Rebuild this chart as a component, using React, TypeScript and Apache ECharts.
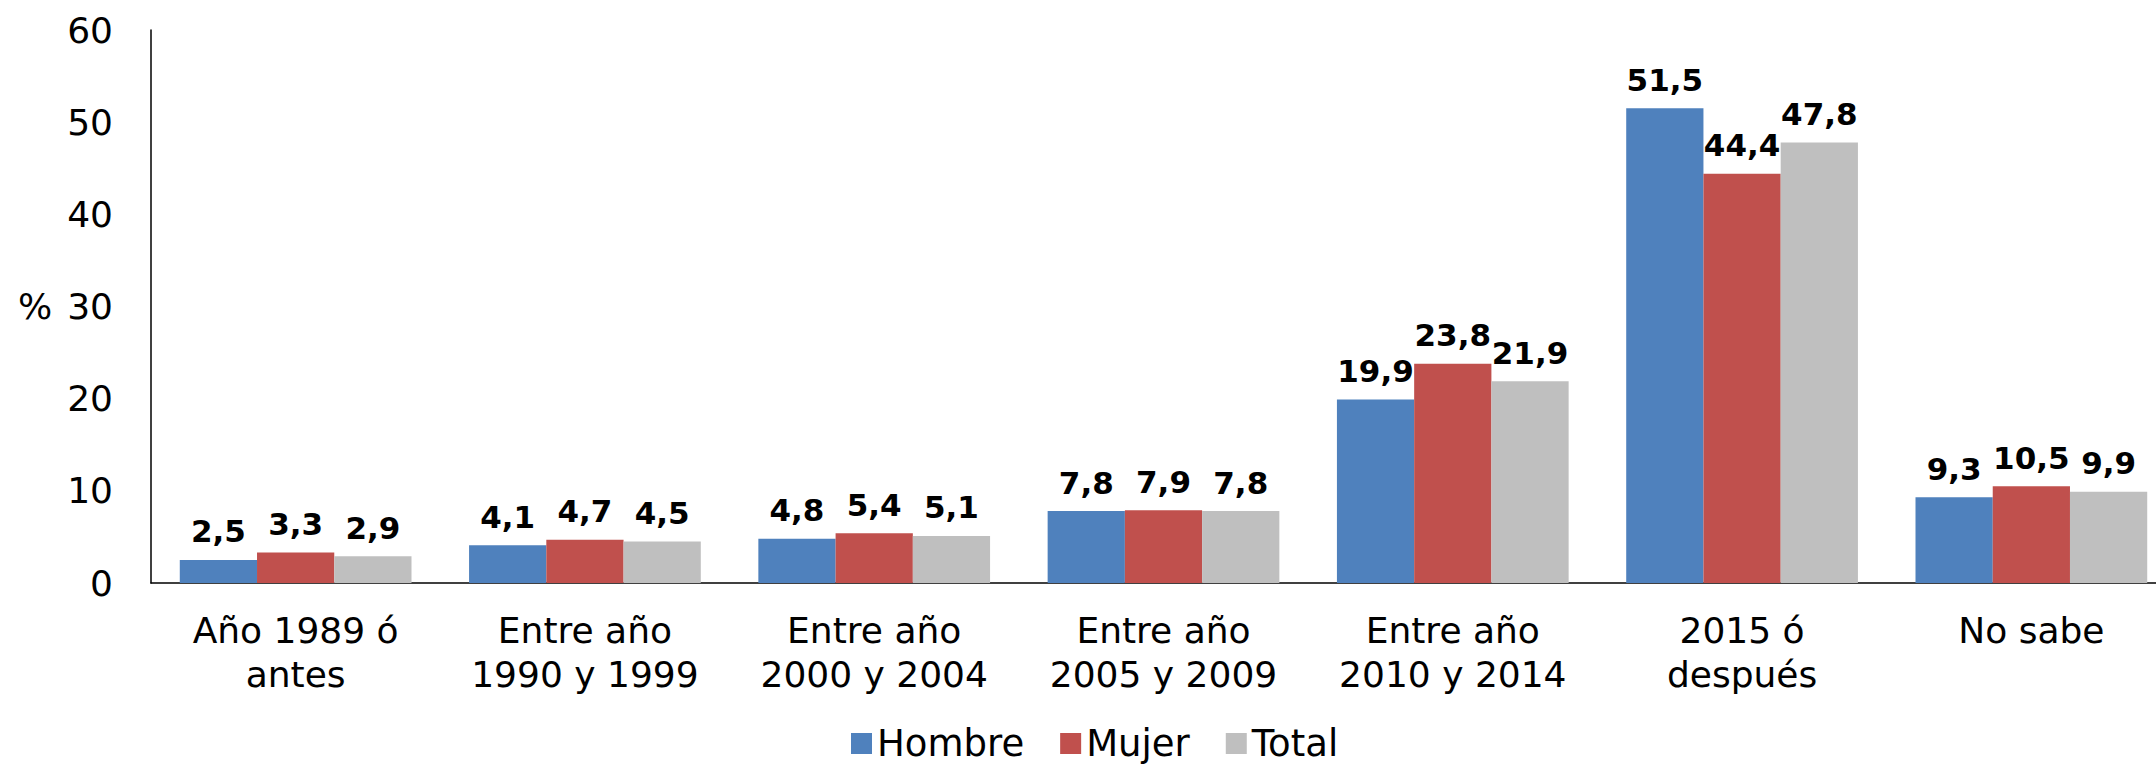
import React, { useEffect, useRef } from "react";
import * as echarts from "echarts";

const categories = [
  "Año 1989 ó\nantes",
  "Entre año\n1990 y 1999",
  "Entre año\n2000 y 2004",
  "Entre año\n2005 y 2009",
  "Entre año\n2010 y 2014",
  "2015 ó\ndespués",
  "No sabe",
];
const hombre = [2.5, 4.1, 4.8, 7.8, 19.9, 51.5, 9.3];
const mujer = [3.3, 4.7, 5.4, 7.9, 23.8, 44.4, 10.5];
const total = [2.9, 4.5, 5.1, 7.8, 21.9, 47.8, 9.9];
const yTicks = { min: 0, max: 60, interval: 10 };

const FONT = "'DejaVu Sans', Verdana, sans-serif";

export default function App() {
  const ref = useRef<HTMLDivElement>(null);
  useEffect(() => {
    if (!ref.current) return;
    const chart = echarts.init(ref.current, undefined, { renderer: "svg" });
    const label = {
      show: true,
      position: "top" as const,
      distance: 13,
      fontFamily: FONT,
      fontWeight: "bold" as const,
      fontSize: 31,
      color: "#000",
      formatter: (p: any) => Number(p.value).toFixed(1).replace(".", ","),
    };
    const mk = (name: string, data: number[], color: string) => ({
      name,
      type: "bar" as const,
      data,
      barGap: "0%",
      barCategoryGap: "19.9%",
      itemStyle: { color },
      label,
    });
    chart.setOption({
      animation: false,
      textStyle: { fontFamily: FONT },
      grid: { left: 151, right: 0, top: 30, bottom: 182, containLabel: false },
      legend: {
        data: ["Hombre", "Mujer", "Total"],
        left: 846,
        top: 720,
        itemWidth: 21,
        itemHeight: 21,
        itemGap: 36,
        icon: "rect",
        textStyle: { fontFamily: FONT, fontSize: 37, color: "#000" },
      },
      xAxis: {
        type: "category",
        data: categories,
        axisLine: { lineStyle: { color: "#000", width: 1.5 } },
        axisTick: { show: false },
        axisLabel: {
          fontFamily: FONT,
          fontSize: 36,
          color: "#000",
          lineHeight: 44,
          margin: 25,
          interval: 0,
        },
      },
      yAxis: {
        type: "value",
        min: yTicks.min,
        max: yTicks.max,
        interval: yTicks.interval,
        splitLine: { show: false },
        axisLine: { show: true, lineStyle: { color: "#000", width: 1.5 } },
        axisTick: { show: false },
        axisLabel: { fontFamily: FONT, fontSize: 36, color: "#000", margin: 38 },
      },
      graphic: [
        {
          type: "text",
          left: 18,
          top: 288,
          style: { text: "%", fontFamily: FONT, fontSize: 36, fill: "#000" },
        },
      ],
      series: [
        mk("Hombre", hombre, "#4F81BD"),
        mk("Mujer", mujer, "#C0504D"),
        mk("Total", total, "#BFBFBF"),
      ],
    });
    return () => chart.dispose();
  }, []);
  return (
    <div
      style={{
        position: "absolute",
        left: 0,
        top: 0,
        width: 2156,
        height: 765,
        overflow: "hidden",
      }}
    >
      <div ref={ref} style={{ width: 2176, height: 765 }} />
    </div>
  );
}
